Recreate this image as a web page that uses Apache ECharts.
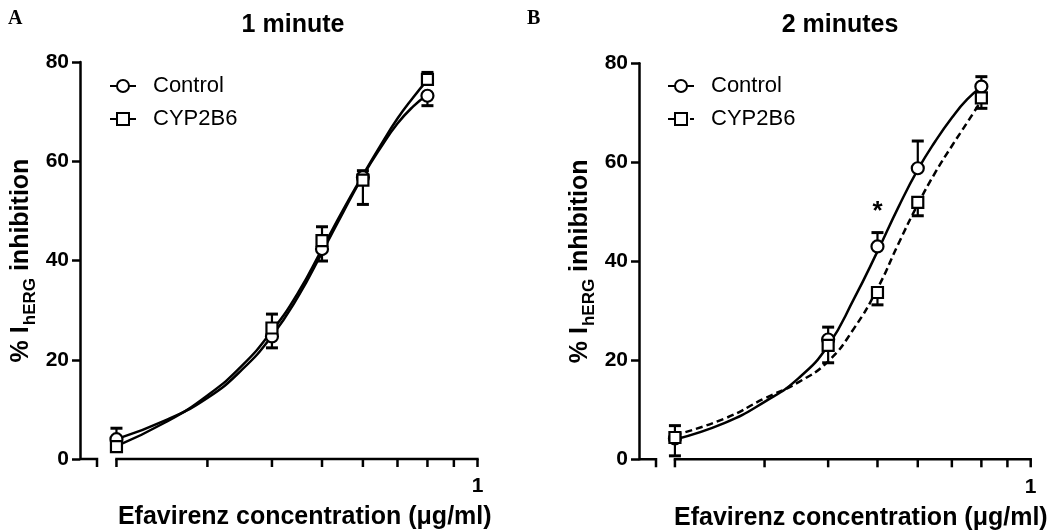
<!DOCTYPE html>
<html><head><meta charset="utf-8">
<script src="https://cdn.jsdelivr.net/npm/echarts@6/dist/echarts.min.js"></script>
<style>html,body{margin:0;padding:0;background:#fff}#c{width:1050px;height:530px}</style>
</head><body><div id="c"></div>
<script>
// ---------- data ----------
const concentrations = [0.2, 0.4, 0.5, 0.6, 0.8];          // µg/ml
const xTicks = [0.2, 0.3, 0.4, 0.5, 0.6, 0.7, 0.8, 0.9, 1];
const xTickLabels = ['', '', '', '', '', '', '', '', '1'];
const xMin = 0.17, xMax = 1;
const yTicks = [0, 20, 40, 60, 80];

// Panel A – 1 minute
const aCtrlMean = [4.0, 24.7, 42.3, 56.8, 73.2];
const aCtrlSem  = [2.0, 2.3, 2.4, 5.5, 2.0];   // bar drawn below
const aCypMean  = [2.5, 26.4, 44.0, 56.2, 76.5];
const aCypSem   = [3.7, 2.8, 2.8, 1.9, 1.4];   // bar drawn above

// Panel B – 2 minutes
const bCtrlMean = [4.2, 24.2, 43.0, 58.8, 75.3];
const bCtrlSem  = [2.6, 2.5, 2.8, 5.5, 2.0];   // bar drawn above
const bCypMean  = [4.4, 23.0, 33.7, 51.9, 73.0];
const bCypSem   = [3.7, 3.5, 2.5, 2.7, 2.1];   // bar drawn below

// fitted curves, read at these concentrations
const curveX    = [0.2, 0.25, 0.3, 0.35, 0.4, 0.45, 0.5, 0.55, 0.6, 0.65, 0.7, 0.75, 0.8];
const aCtrlFit  = [4.0, 7.9, 12.3, 18.0, 24.8, 32.8, 41.6, 49.8, 57.0, 62.8, 67.6, 71.0, 73.4];
const aCypFit   = [2.6, 7.5, 12.8, 18.8, 25.8, 33.6, 42.3, 50.3, 57.2, 63.3, 68.6, 72.8, 76.4];
const bCtrlFit  = [4.0, 7.3, 11.6, 16.4, 23.0, 32.5, 42.0, 51.0, 58.5, 64.3, 69.0, 72.7, 75.2];
const bCypFit   = [4.9, 8.2, 12.3, 15.6, 19.8, 26.5, 34.5, 43.6, 51.5, 58.0, 63.3, 68.0, 72.5];

const significance = [{panel: 1, x: 0.5, text: '*'}];

const panelTitles = ['1 minute', '2 minutes'];
const panelLetters = ['A', 'B'];
const xTitle = 'Efavirenz concentration (\u03bcg/ml)';
const legendNames = ['Control', 'CYP2B6'];

// ---------- chart ----------
const FONT = '"Liberation Sans", Arial, Helvetica, sans-serif';
const zip = (xs, ys) => xs.map((x, i) => [x, ys[i]]);
const chart = echarts.init(document.getElementById('c'));

const grids = [
  {left: 80, right: 572.5, top: 62, bottom: 71, containLabel: false, outerBoundsMode: 'none'},
  {left: 639, right: 19.3, top: 63.3, bottom: 70.7, containLabel: false, outerBoundsMode: 'none'}
];

function xAxisCfg(i) {
  return {
    type: 'log', logBase: 10, gridIndex: i, min: xMin, max: xMax,
    axisLine: {show: false}, axisTick: {show: false}, axisLabel: {show: false}, splitLine: {show: false},
    name: xTitle, nameLocation: 'middle', nameGap: 46,
    nameTextStyle: {fontFamily: FONT, fontWeight: 'bold', fontSize: 25, color: '#000', padding: [0, 0, 0, 52]}
  };
}
function yAxisCfg(i) {
  return {
    type: 'value', gridIndex: i, min: 0, max: 80, interval: 20,
    axisLine: {show: true, onZero: false, lineStyle: {color: '#000', width: 2.5}},
    axisTick: {show: true, length: 8, lineStyle: {color: '#000', width: 2.5}},
    axisLabel: {fontFamily: FONT, fontWeight: 'bold', fontSize: 21, color: '#000', margin: 11},
    splitLine: {show: false},
    name: '{a|% I}{b|hERG}{a| inhibition}', nameLocation: 'middle', nameRotate: 90, nameGap: 44,
    nameTextStyle: {
      rich: {
        a: {fontFamily: FONT, fontWeight: 'bold', fontSize: 25, color: '#000', lineHeight: 30},
        b: {fontFamily: FONT, fontWeight: 'bold', fontSize: 17, color: '#000', verticalAlign: 'bottom', lineHeight: 30, padding: [0, 0, -3, 1]}
      }
    }
  };
}

// axis line with break + ticks + tick labels, drawn through the axis scale
function xAxisSeries(i) {
  return {
    type: 'custom', xAxisIndex: i, yAxisIndex: i, clip: false, silent: true, z: 5,
    data: xTicks.map((t, k) => [t, 0, k]),
    renderItem: function (params, api) {
      const k = api.value(2);
      const p = api.coord([api.value(0), 0]);
      const children = [{
        type: 'line', shape: {x1: p[0], y1: p[1], x2: p[0], y2: p[1] + 8},
        style: {stroke: '#000', lineWidth: 2.5}
      }];
      if (xTickLabels[k]) {
        children.push({type: 'text', x: p[0], y: p[1] + 17,
          style: {text: xTickLabels[k], fontFamily: FONT, fontWeight: 'bold', fontSize: 21, fill: '#000', align: 'center', verticalAlign: 'top'}});
      }
      if (k === 0) {
        const pe = api.coord([xTicks[xTicks.length - 1], 0]);
        const pm = api.coord([xMin, 0]);
        children.push({type: 'line', shape: {x1: p[0] - 1.2, y1: p[1], x2: pe[0] + 1.2, y2: pe[1]}, style: {stroke: '#000', lineWidth: 2.5}});
        children.push({type: 'polyline', shape: {points: [[pm[0], pm[1]], [pm[0] + 17, pm[1]], [pm[0] + 17, pm[1] + 8]]}, style: {stroke: '#000', lineWidth: 2.5, fill: null}});
      }
      return {type: 'group', children: children};
    }
  };
}

function errSeries(i, means, sems, dir) {
  return {
    type: 'custom', xAxisIndex: i, yAxisIndex: i, clip: false, silent: true, z: 3,
    data: concentrations.map((x, k) => [x, means[k], means[k] + dir * sems[k]]),
    renderItem: function (params, api) {
      const p0 = api.coord([api.value(0), api.value(1)]);
      const p1 = api.coord([api.value(0), api.value(2)]);
      return {type: 'group', children: [
        {type: 'line', shape: {x1: p0[0], y1: p0[1], x2: p1[0], y2: p1[1]}, style: {stroke: '#000', lineWidth: 2.2}},
        {type: 'line', shape: {x1: p1[0] - 6, y1: p1[1], x2: p1[0] + 6, y2: p1[1]}, style: {stroke: '#000', lineWidth: 3}}
      ]};
    }
  };
}

function sigSeries(i, means, sems) {
  const marks = significance.filter(s => s.panel === i);
  return {
    type: 'custom', xAxisIndex: i, yAxisIndex: i, clip: false, silent: true, z: 6,
    data: marks.map(s => { const k = concentrations.indexOf(s.x); return [s.x, means[k] + sems[k], s.text]; }),
    renderItem: function (params, api) {
      const p = api.coord([api.value(0), api.value(1)]);
      return {type: 'text', x: p[0], y: p[1] - 8,
        style: {text: marks[params.dataIndex].text, fontFamily: FONT, fontWeight: 'bold', fontSize: 26, fill: '#000', align: 'center', verticalAlign: 'bottom'}};
    }
  };
}

function curveSeries(i, name, ys, symbol, dashed) {
  return {
    type: 'line', name: name, xAxisIndex: i, yAxisIndex: i, z: 2,
    data: zip(curveX, ys), smooth: 0.5,
    symbol: symbol, showSymbol: false, symbolSize: 12,
    itemStyle: {color: '#fff', borderColor: '#000', borderWidth: 2},
    lineStyle: {color: '#000', width: 2.5, type: dashed ? [7, 4] : 'solid'}
  };
}
function pointSeries(i, name, ys, symbol, size) {
  return {
    type: 'scatter', name: name, xAxisIndex: i, yAxisIndex: i, z: 4,
    data: zip(concentrations, ys), symbol: symbol, symbolSize: size,
    itemStyle: {color: '#fff', borderColor: '#000', borderWidth: 2.2, opacity: 1}
  };
}

const nm = (n, i) => i === 0 ? n : n + '|B';

const option = {
  animation: false,
  backgroundColor: '#fff',
  title: [
    {text: panelTitles[0], left: 288, top: 8, textAlign: 'center', textStyle: {fontFamily: FONT, fontWeight: 'bold', fontSize: 25, color: '#000'}},
    {text: panelTitles[1], left: 835, top: 8, textAlign: 'center', textStyle: {fontFamily: FONT, fontWeight: 'bold', fontSize: 25, color: '#000'}},
    {text: panelLetters[0], left: 3, top: 4, textStyle: {fontFamily: '"Liberation Serif", "Times New Roman", serif', fontWeight: 'bold', fontSize: 20, color: '#000'}},
    {text: panelLetters[1], left: 522, top: 4, textStyle: {fontFamily: '"Liberation Serif", "Times New Roman", serif', fontWeight: 'bold', fontSize: 20, color: '#000'}}
  ],
  legend: [0, 1].map(i => ({
    orient: 'vertical', left: i === 0 ? 104 : 662, top: 70,
    itemWidth: 26, itemHeight: 15, itemGap: 11,
    data: legendNames.map(n => nm(n, i)),
    formatter: n => n.split('|')[0],
    selectedMode: false,
    textStyle: {fontFamily: FONT, fontSize: 22, color: '#000', padding: [0, 0, 0, 12]}
  })),
  grid: grids,
  xAxis: [xAxisCfg(0), xAxisCfg(1)],
  yAxis: [yAxisCfg(0), yAxisCfg(1)],
  series: [
    curveSeries(0, nm('Control', 0), aCtrlFit, 'circle', false),
    curveSeries(0, nm('CYP2B6', 0), aCypFit, 'rect', false),
    curveSeries(1, nm('Control', 1), bCtrlFit, 'circle', false),
    curveSeries(1, nm('CYP2B6', 1), bCypFit, 'rect', true),
    errSeries(0, aCtrlMean, aCtrlSem, -1),
    errSeries(0, aCypMean, aCypSem, 1),
    errSeries(1, bCtrlMean, bCtrlSem, 1),
    errSeries(1, bCypMean, bCypSem, -1),
    pointSeries(0, nm('Control', 0), aCtrlMean, 'circle', 12),
    pointSeries(0, nm('CYP2B6', 0), aCypMean, 'rect', 11),
    pointSeries(1, nm('Control', 1), bCtrlMean, 'circle', 12),
    pointSeries(1, nm('CYP2B6', 1), bCypMean, 'rect', 11),
    xAxisSeries(0), xAxisSeries(1),
    sigSeries(1, bCtrlMean, bCtrlSem)
  ]
};
chart.setOption(option);
</script>
</body></html>
